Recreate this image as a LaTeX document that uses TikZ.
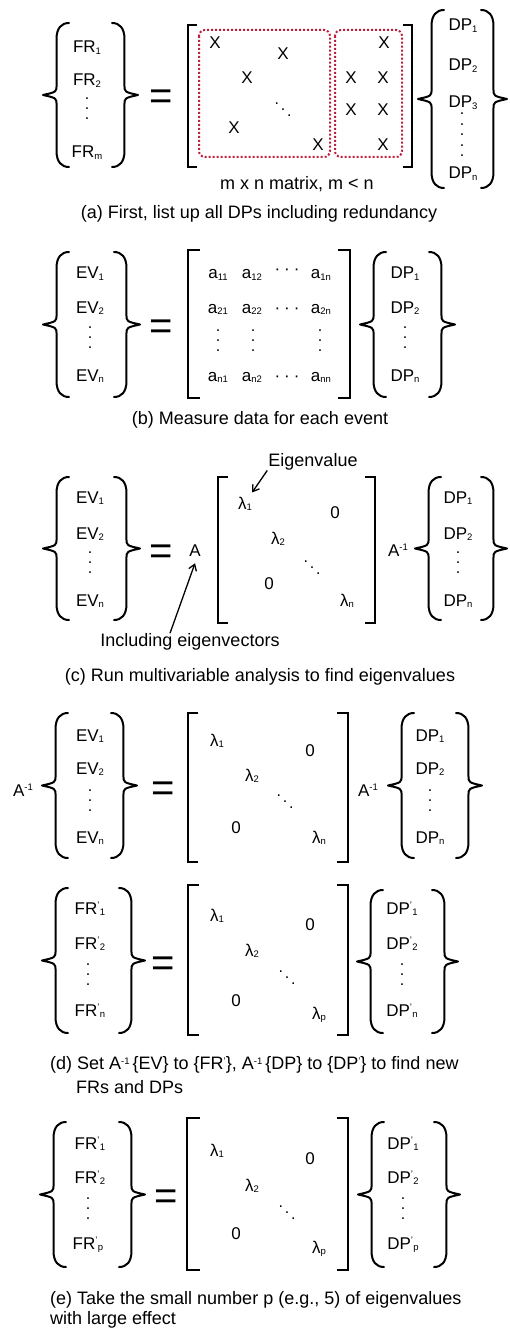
\documentclass[tikz,border=0pt]{standalone}
\usepackage{fontspec}
\setmainfont{Liberation Sans}
\usetikzlibrary{arrows.meta}

% small lowered / raised indices
\newcommand\sbs[1]{\raisebox{-1.5pt}{\fontsize{9.5}{9.5}\selectfont #1}}
\newcommand\sps[1]{\raisebox{5.5pt}{\fontsize{9.5}{9.5}\selectfont #1}}
\newcommand\prm{\sps{'}\kern0.5pt}
% dot groups
\newcommand\vdthree{\vbox{\baselineskip=10pt\lineskiplimit=-20pt\hbox{.}\hbox{.}\hbox{.}}}
\newcommand\vdfive{\vbox{\baselineskip=10.5pt\lineskiplimit=-20pt\hbox{.}\hbox{.}\hbox{.}\hbox{.}\hbox{.}}}
\newcommand\diagdots{.\kern1.8pt\raisebox{-6pt}{.}\kern1.8pt\raisebox{-12pt}{.}}
\newcommand\hdots{\textperiodcentered\kern4pt\textperiodcentered\kern4pt\textperiodcentered}

% curly brace: #1 tip x, #2 end x, #3 top y, #4 bottom y
\newcommand\curly[4]{%
  \pgfmathsetmacro\cxm{#1+0.52*(#2-#1)}%
  \pgfmathsetmacro\cxe{\cxm+0.4*(#2-\cxm)}%
  \pgfmathsetmacro\cym{(#3+#4)/2}%
  \draw[brace line] (#2,#3) .. controls (\cxe,#3) and (\cxm,#3+5) .. (\cxm,#3+16)
    -- (\cxm,\cym-10) .. controls (\cxm,\cym-3) .. (#1,\cym)
    .. controls (\cxm,\cym+3) .. (\cxm,\cym+10)
    -- (\cxm,#4-16) .. controls (\cxm,#4-5) and (\cxe,#4) .. (#2,#4);}
% square bracket: #1 spine x, #2 serif end x, #3 top y, #4 bottom y
\newcommand\sqbr[4]{%
  \draw[bracket line] (#2,#3) -- (#1,#3) -- (#1,#4) -- (#2,#4);}

\definecolor{boxred}{RGB}{190,30,60}

\begin{document}
\begin{tikzpicture}[x=1pt,y=-1pt,
  ent/.style={font=\fontsize{17}{20}\selectfont, inner sep=0pt, anchor=base},
  lbl/.style={font=\fontsize{18}{21}\selectfont, inner sep=0pt, anchor=base},
  lblw/.style={lbl, anchor=base west},
  eqs/.style={font=\fontsize{40}{40}\selectfont, inner sep=0pt, anchor=base},
  dotnode/.style={font=\fontsize{16}{19}\selectfont, inner sep=0pt, anchor=center},
  brace line/.style={line width=2pt, line cap=round, line join=round},
  bracket line/.style={line width=2pt, line join=miter},
  redbox/.style={draw=boxred, line width=2pt, dash pattern=on 2pt off 2pt, rounded corners=6pt},
  arr/.style={line width=1.3pt, -{Straight Barb[length=6pt,width=8pt]}}]
\useasboundingbox (0,0) rectangle (510,1329);

% ---------- (a) ----------
\node[ent] (a-fr1) at (87,53) {FR\sbs{1}};
\node[ent] (a-fr2) at (87,86) {FR\sbs{2}};
\node[dotnode] (a-frv) at (87,109) {\vdthree};
\node[ent] (a-frm) at (87,158) {FR\sbs{m}};
\curly{43}{69}{23}{167}
\curly{138}{112}{23}{167}
\node[eqs] (a-eq) at (161,109.5) {=};
\sqbr{188}{197}{25}{167}
\sqbr{412}{403}{25}{167}
\draw[redbox] (199,30) rectangle (330,157);
\draw[redbox] (335,30) rectangle (402,157);
\node[ent] (a-x1) at (215,49) {X};
\node[ent] (a-x2) at (283,60) {X};
\node[ent] (a-x3) at (247,84) {X};
\node[ent] (a-x4) at (234,134) {X};
\node[ent] (a-x5) at (318,151) {X};
\node[ent] (a-x6) at (384,49) {X};
\node[ent] (a-x7) at (351,84) {X};
\node[ent] (a-x8) at (383,84) {X};
\node[ent] (a-x9) at (351,116) {X};
\node[ent] (a-x10) at (383,116) {X};
\node[ent] (a-x11) at (383,151) {X};
\node[dotnode] (a-dd) at (283,110) {\diagdots};
\node[lbl] (a-dim) at (297,189.5) {m x n matrix, m < n};
\curly{418}{444}{10}{188}
\curly{507}{481}{10}{188}
\node[ent] (a-dp1) at (463,31) {DP\sbs{1}};
\node[ent] (a-dp2) at (463,71) {DP\sbs{2}};
\node[ent] (a-dp3) at (463,108) {DP\sbs{3}};
\node[dotnode] (a-dpv) at (462,135) {\vdfive};
\node[ent] (a-dpn) at (463,179) {DP\sbs{n}};
\node[lbl] (a-cap) at (259,218.5) {(a) First, list up all DPs including redundancy};

% ---------- (b) ----------
\curly{43}{69}{252}{397}
\curly{140}{114}{252}{397}
\node[ent] (b-ev1) at (90,279) {EV\sbs{1}};
\node[ent] (b-ev2) at (90,313) {EV\sbs{2}};
\node[dotnode] (b-evv) at (90,338) {\vdthree};
\node[ent] (b-evn) at (90,381) {EV\sbs{n}};
\node[eqs] (b-eq) at (161,339.5) {=};
\sqbr{188}{200}{250}{398}
\sqbr{350}{338}{250}{398}
\node[ent] (b-a11) at (218,279) {a\sbs{11}};
\node[ent] (b-a12) at (252,279) {a\sbs{12}};
\node[ent] (b-c1) at (287,275) {\hdots};
\node[ent] (b-a1n) at (321,279) {a\sbs{1n}};
\node[ent] (b-a21) at (218,313) {a\sbs{21}};
\node[ent] (b-a22) at (252,313) {a\sbs{22}};
\node[ent] (b-c2) at (287,313) {\hdots};
\node[ent] (b-a2n) at (321,313) {a\sbs{2n}};
\node[dotnode] (b-v1) at (218,341) {\vdthree};
\node[dotnode] (b-v2) at (253,341) {\vdthree};
\node[dotnode] (b-v3) at (320,341) {\vdthree};
\node[ent] (b-an1) at (218,381) {a\sbs{n1}};
\node[ent] (b-an2) at (252,381) {a\sbs{n2}};
\node[ent] (b-c3) at (287,381) {\hdots};
\node[ent] (b-ann) at (321,381) {a\sbs{nn}};
\curly{360}{386}{252}{397}
\curly{455}{429}{252}{397}
\node[ent] (b-dp1) at (405,279) {DP\sbs{1}};
\node[ent] (b-dp2) at (405,313) {DP\sbs{2}};
\node[dotnode] (b-dpv) at (405,338) {\vdthree};
\node[ent] (b-dpn) at (405,381) {DP\sbs{n}};
\node[lbl] (b-cap) at (260,424.5) {(b) Measure data for each event};

% ---------- (c) ----------
\node[lbl] (c-eig) at (313,466.5) {Eigenvalue};
\curly{43}{69}{477}{620}
\curly{140}{114}{477}{620}
\node[ent] (c-ev1) at (90,503) {EV\sbs{1}};
\node[ent] (c-ev2) at (90,539) {EV\sbs{2}};
\node[dotnode] (c-evv) at (90,563) {\vdthree};
\node[ent] (c-evn) at (90,606) {EV\sbs{n}};
\node[eqs] (c-eq) at (161,564.5) {=};
\node[ent] (c-A) at (195,556) {A};
\sqbr{218}{228}{477}{623}
\sqbr{375}{365}{477}{623}
\node[ent] (c-l1) at (245,509) {λ\sbs{1}};
\node[ent] (c-z1) at (335,518) {0};
\node[ent] (c-l2) at (278,544) {λ\sbs{2}};
\node[dotnode] (c-dd) at (312,568) {\diagdots};
\node[ent] (c-z2) at (269,589) {0};
\node[ent] (c-ln) at (347,606) {λ\sbs{n}};
\node[ent] (c-Ai) at (398,556) {A\sps{-1}};
\curly{415}{441}{477}{620}
\curly{507}{481}{477}{620}
\node[ent] (c-dp1) at (458,503) {DP\sbs{1}};
\node[ent] (c-dp2) at (458,539) {DP\sbs{2}};
\node[dotnode] (c-dpv) at (458,563) {\vdthree};
\node[ent] (c-dpn) at (458,606) {DP\sbs{n}};
\node[lbl] (c-inc) at (190,646.5) {Including eigenvectors};
\draw[arr] ([xshift=-1pt]c-eig.south west) -- ([yshift=4pt]c-l1.north east);
\draw[arr] ([xshift=-20pt]c-inc.north) -- ([yshift=-7pt]c-A.south);
\node[lbl] (c-cap) at (260,681.5) {(c) Run multivariable analysis to find eigenvalues};

% ---------- (d), first line ----------
\node[ent] (d-Ai1) at (23,796) {A\sps{-1}};
\curly{42}{68}{713}{858}
\curly{137}{111}{713}{858}
\node[ent] (d-ev1) at (90,741) {EV\sbs{1}};
\node[ent] (d-ev2) at (90,774) {EV\sbs{2}};
\node[dotnode] (d-evv) at (90,801) {\vdthree};
\node[ent] (d-evn) at (90,843) {EV\sbs{n}};
\node[eqs] (d-eq) at (163,801.5) {=};
\sqbr{188}{198}{713}{862}
\sqbr{348}{337}{713}{862}
\node[ent] (d-l1) at (217,746) {λ\sbs{1}};
\node[ent] (d-z1) at (310,756) {0};
\node[ent] (d-l2) at (252,781) {λ\sbs{2}};
\node[dotnode] (d-dd) at (285,802) {\diagdots};
\node[ent] (d-z2) at (236,833) {0};
\node[ent] (d-ln) at (319,843) {λ\sbs{n}};
\node[ent] (d-Ai2) at (368,796) {A\sps{-1}};
\curly{388}{414}{713}{858}
\curly{482}{456}{713}{858}
\node[ent] (d-dp1) at (430,741) {DP\sbs{1}};
\node[ent] (d-dp2) at (430,774) {DP\sbs{2}};
\node[dotnode] (d-dpv) at (430,801) {\vdthree};
\node[ent] (d-dpn) at (430,843) {DP\sbs{n}};

% ---------- (d), second line ----------
\curly{42}{68}{888}{1033}
\curly{145}{119}{888}{1033}
\node[ent] (f-fr1) at (90,914) {FR\prm\sbs{1}};
\node[ent] (f-fr2) at (90,949) {FR\prm\sbs{2}};
\node[dotnode] (f-frv) at (88,975) {\vdthree};
\node[ent] (f-frn) at (90,1016) {FR\prm\sbs{n}};
\node[eqs] (f-eq) at (163,976.5) {=};
\sqbr{188}{199}{885}{1035}
\sqbr{348}{337}{885}{1035}
\node[ent] (f-l1) at (217,921) {λ\sbs{1}};
\node[ent] (f-z1) at (310,930) {0};
\node[ent] (f-l2) at (252,956) {λ\sbs{2}};
\node[dotnode] (f-dd) at (287,978) {\diagdots};
\node[ent] (f-z2) at (236,1006) {0};
\node[ent] (f-lp) at (319,1019) {λ\sbs{p}};
\curly{357}{383}{890}{1033}
\curly{458}{432}{890}{1033}
\node[ent] (f-dp1) at (402,914) {DP\prm\sbs{1}};
\node[ent] (f-dp2) at (402,949) {DP\prm\sbs{2}};
\node[dotnode] (f-dpv) at (402,975) {\vdthree};
\node[ent] (f-dpn) at (402,1016) {DP\prm\sbs{n}};
\node[lblw] (d-cap1) at (50,1069.5) {(d) Set A\sps{-1}\,\{EV\} to \{FR\sps{'}\}, A\sps{-1}\,\{DP\} to \{DP\sps{'}\} to find new};
\node[lblw] (d-cap2) at (76,1093.5) {FRs and DPs};

% ---------- (e) ----------
\curly{40}{66}{1122}{1267}
\curly{145}{119}{1122}{1267}
\node[ent] (e-fr1) at (90,1149) {FR\prm\sbs{1}};
\node[ent] (e-fr2) at (90,1183) {FR\prm\sbs{2}};
\node[dotnode] (e-frv) at (88,1209) {\vdthree};
\node[ent] (e-frp) at (88,1249) {FR\prm\sbs{p}};
\node[eqs] (e-eq) at (166,1209.5) {=};
\sqbr{187}{200}{1118}{1270}
\sqbr{348}{337}{1118}{1270}
\node[ent] (e-l1) at (217,1156) {λ\sbs{1}};
\node[ent] (e-z1) at (310,1164) {0};
\node[ent] (e-l2) at (252,1191) {λ\sbs{2}};
\node[dotnode] (e-dd) at (287,1213) {\diagdots};
\node[ent] (e-z2) at (236,1239) {0};
\node[ent] (e-lp) at (319,1253) {λ\sbs{p}};
\curly{358}{384}{1122}{1267}
\curly{460}{434}{1122}{1267}
\node[ent] (e-dp1) at (403,1149) {DP\prm\sbs{1}};
\node[ent] (e-dp2) at (403,1183) {DP\prm\sbs{2}};
\node[dotnode] (e-dpv) at (403,1209) {\vdthree};
\node[ent] (e-dpp) at (403,1249) {DP\prm\sbs{p}};
\node[lblw] (e-cap1) at (50,1304) {(e) Take the small number p (e.g., 5) of eigenvalues};
\node[lblw] (e-cap2) at (50,1324) {with large effect};
\end{tikzpicture}
\end{document}
